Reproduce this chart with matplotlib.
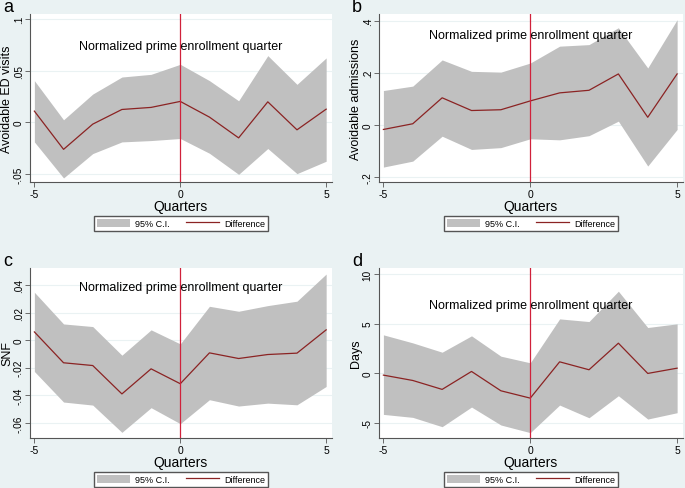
import matplotlib
matplotlib.use('Agg')
import matplotlib.pyplot as plt
import matplotlib.patches as mpatches
from matplotlib.lines import Line2D

plt.rcParams['font.family'] = ['Liberation Sans', 'DejaVu Sans']

# dados
quarters = [-5, -4, -3, -2, -1, 0, 1, 2, 3, 4, 5]

ed_diff = [0.011, -0.026, -0.0016, 0.0126, 0.0146, 0.0204, 0.0052, -0.0149, 0.020, -0.0071, 0.0129]
ed_up = [0.0405, 0.0026, 0.0275, 0.044, 0.0466, 0.0563, 0.0405, 0.021, 0.0647, 0.0369, 0.0625]
ed_lo = [-0.0188, -0.0537, -0.0301, -0.0188, -0.0175, -0.0155, -0.0298, -0.0502, -0.0252, -0.0495, -0.0375]

adm_diff = [-0.018, 0.004, 0.104, 0.055, 0.058, 0.092, 0.123, 0.133, 0.196, 0.029, 0.196]
adm_up = [0.132, 0.149, 0.25, 0.206, 0.203, 0.238, 0.303, 0.309, 0.374, 0.219, 0.405]
adm_lo = [-0.163, -0.14, -0.044, -0.095, -0.088, -0.054, -0.058, -0.042, 0.014, -0.159, -0.018]

snf_diff = [0.006, -0.0164, -0.0184, -0.039, -0.0208, -0.0316, -0.0092, -0.0133, -0.0104, -0.0094, 0.0075]
snf_up = [0.0348, 0.0118, 0.0099, -0.0109, 0.0075, -0.0027, 0.0246, 0.021, 0.0251, 0.0283, 0.048]
snf_lo = [-0.0227, -0.0449, -0.0471, -0.0669, -0.049, -0.0606, -0.0432, -0.0478, -0.0457, -0.0469, -0.0336]

days_diff = [-0.2, -0.74, -1.64, 0.17, -1.78, -2.52, 1.14, 0.34, 3.02, -0.03, 0.5]
days_up = [3.86, 3.05, 2.11, 3.76, 1.71, 1.04, 5.47, 5.2, 8.26, 4.6, 4.97]
days_lo = [-4.16, -4.46, -5.4, -3.42, -5.23, -6.0, -3.22, -4.5, -2.28, -4.63, -3.99]

ylabels = ['Avoidable ED visits', 'Avoidable admissions', 'SNF', 'Days']
yticks = [[-0.05, 0, 0.05, 0.1], [-0.2, 0, 0.2, 0.4],
          [-0.06, -0.04, -0.02, 0, 0.02, 0.04], [-5, 0, 5, 10]]
yticklabels = [['-.05', '0', '.05', '.1'], ['-.2', '0', '.2', '.4'],
               ['-.06', '-.04', '-.02', '0', '.02', '.04'], ['-5', '0', '5', '10']]
letras = ['a', 'b', 'c', 'd']

series = [(ed_diff, ed_up, ed_lo), (adm_diff, adm_up, adm_lo),
          (snf_diff, snf_up, snf_lo), (days_diff, days_up, days_lo)]

# posições em pixels (left, right, top, bottom) e limites
W, H = 685, 489
caixas = [(30, 332, 15, 183), (379, 683, 15, 183), (30, 332, 269, 439), (379, 683, 269, 439)]
ylims = [(-0.0576, 0.105), (-0.2205, 0.427), (-0.071, 0.0524), (-6.54, 10.6)]
texto_y = [0.0744, 0.346, 0.0389, 6.88]

fundo = '#EAF2F3'
cinza = '#C0C0C0'
vinho = '#8B2323'
vermelho = '#D0213B'

fig = plt.figure(figsize=(W / 100, H / 100), dpi=100, facecolor=fundo)

for i in range(4):
    l, r, t, b = caixas[i]
    ax = fig.add_axes([l / W, 1 - b / H, (r - l) / W, (b - t) / H])
    ax.set_facecolor('white')
    diff, up, lo = series[i]

    for yt in yticks[i]:
        ax.axhline(yt, color=fundo, linewidth=0.8, zorder=0)

    ax.fill_between(quarters, lo, up, color=cinza, linewidth=0, zorder=1)
    ax.plot(quarters, diff, color=vinho, linewidth=0.9, zorder=2)
    ax.axvline(0, color=vermelho, linewidth=0.9, zorder=3)
    ax.text(0, texto_y[i], 'Normalized prime enrollment quarter', ha='center', va='center',
            fontsize=9, zorder=4)

    ax.set_xlim(-5.15, 5.2)
    ax.set_ylim(ylims[i])
    ax.set_xticks([-5, 0, 5])
    ax.set_xticklabels(['-5', '0', '5'], fontsize=7.5)
    ax.set_yticks(yticks[i])
    ax.set_yticklabels(yticklabels[i], fontsize=7.2, rotation=90, va='center')
    ax.tick_params(direction='out', length=3.5, width=0.6, color='#555555', pad=1.5)
    ax.tick_params(axis='y', pad=1)
    for s in ['top', 'right']:
        ax.spines[s].set_visible(False)
    for s in ['left', 'bottom']:
        ax.spines[s].set_color('#555555')
        ax.spines[s].set_linewidth(0.8)

    ax.set_xlabel('Quarters', fontsize=10, labelpad=0)
    ax.set_ylabel(ylabels[i], fontsize=9, va='center')
    ax.yaxis.set_label_coords(-23 / (r - l), 0.5)

    h1 = mpatches.Patch(facecolor=cinza, edgecolor='none', label='95% C.I.')
    h2 = Line2D([0], [0], color=vinho, linewidth=0.9, label='Difference')
    ax.legend(handles=[h1, h2], ncol=2, loc='upper center', bbox_to_anchor=(0.5, -33.5 / (b - t)),
              fontsize=6.5, frameon=True, fancybox=False, edgecolor='#555555', framealpha=1,
              borderpad=0.35, borderaxespad=0, handlelength=3.6, handleheight=1.0,
              columnspacing=1.9, handletextpad=0.55)

    fig.text((l - 27) / W, 1 - (t - 7) / H, letras[i], fontsize=13, va='center', ha='left')

fig.savefig('out.png', dpi=100, facecolor=fundo)
